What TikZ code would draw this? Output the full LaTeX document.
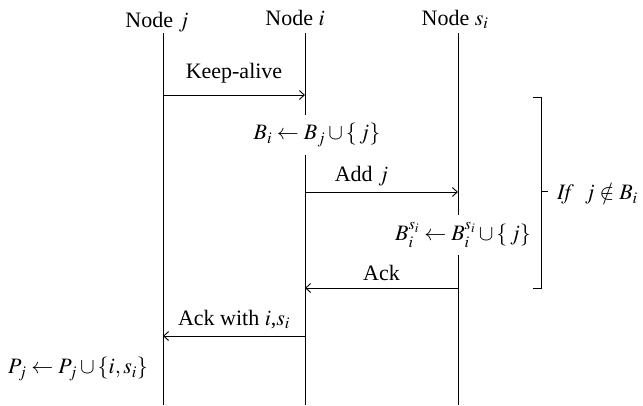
\documentclass[tikz,border=0pt]{standalone}
\usepackage{mathptmx}
\usepackage{fontspec}
\setmainfont{Liberation Serif}
\usetikzlibrary{arrows.meta, positioning}

\tikzstyle{actor} = [anchor=base, inner sep=2pt]
\tikzstyle{lifeline} = [line width=0.9pt]
\tikzstyle{msg} = [line width=0.9pt, ->, >={Straight Barb[length=5pt,width=9pt]}]
\tikzstyle{msglabel} = [anchor=base, inner sep=0pt, yshift=11pt]
\tikzstyle{update} = [fill=white, inner sep=1pt, minimum height=40pt]

\begin{document}
\begin{tikzpicture}[x=1pt, y=1pt, every node/.style={font=\fontsize{22}{26}\selectfont}]

\useasboundingbox (0,0) rectangle (643,-405);

% participants
\node (nj) [actor] at (157,-27) {Node $j$};
\node (ni) [actor] at (295,-25) {Node $i$};
\node (ns) [actor] at (455,-25) {Node $s_i$};

% lifelines
\coordinate (j-top) at (163,-33);
\coordinate (j-bot) at (163,-405);
\coordinate (i-top) at (305,-33);
\coordinate (i-bot) at (305,-405);
\coordinate (s-top) at (458,-33);
\coordinate (s-bot) at (458,-405);
\draw [lifeline] (j-top) -- (j-bot);
\draw [lifeline] (i-top) -- (i-bot);
\draw [lifeline] (s-top) -- (s-bot);

% local updates (white fill breaks the lifeline)
\node (upd-i) [update] at (317,-135) {$B_i \leftarrow B_j \cup \{\,j\}$};
\node (upd-s) [update] at (463,-235) {$B_i^{s_i} \leftarrow B_i^{s_i} \cup \{\,j\}$};
\node (upd-j) [update] at (78,-369) {$P_j \leftarrow P_j \cup \{i, s_i\}$};

% message points
\coordinate (ka-j) at (163,-95);
\coordinate (ka-i) at (305,-95);
\coordinate (add-i) at (305,-192);
\coordinate (add-s) at (458,-192);
\coordinate (ack-s) at (458,-288);
\coordinate (ack-i) at (305,-288);
\coordinate (ackw-i) at (305,-336);
\coordinate (ackw-j) at (163,-336);

% messages
\draw [msg] (ka-j) -- node[msglabel, yshift=6pt] {Keep-alive} (ka-i);
\draw [msg] (add-i) -- node[msglabel, xshift=-20pt] {Add $j$} (add-s);
\draw [msg] (ack-s) -- node[msglabel, yshift=-3pt] {Ack} (ack-i);
\draw [msg] (ackw-i) -- node[msglabel] {Ack with $i$,$s_i$} (ackw-j);

% condition bracket
\coordinate (br-top) at (533,-97);
\coordinate (br-bot) at (533,-288);
\coordinate (br-mid) at (541,-191);
\node (cond) [anchor=west, inner sep=0pt] at (557,-194) {$\mathit{If}\ \ j \notin B_i$};
\draw [lifeline] (br-top) -- ++(8,0) |- (br-bot);
\draw [lifeline] (br-mid) -- ++(7,0);

\end{tikzpicture}
\end{document}
